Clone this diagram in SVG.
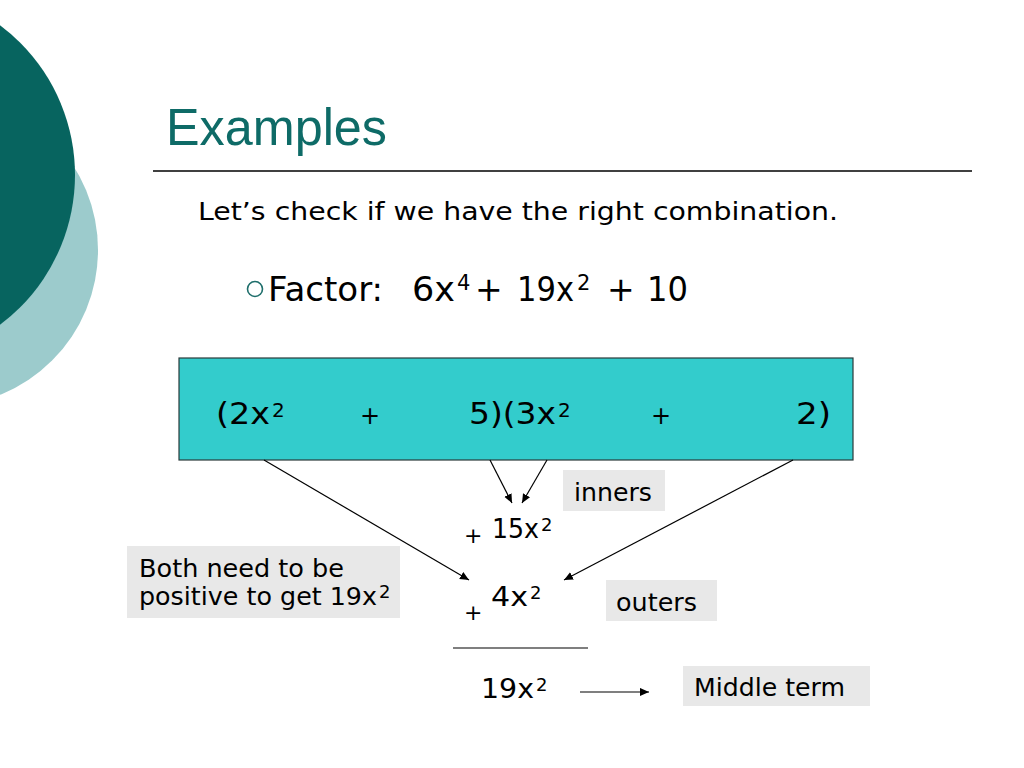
<svg xmlns="http://www.w3.org/2000/svg" width="1024" height="768" viewBox="0 0 1024 768">
<defs>
<style>
.t{font-family:"DejaVu Sans","Verdana",sans-serif;fill:#000}
.lbl{fill:#E8E8E8}
.con{stroke:#000;stroke-width:1.2;fill:none}
</style>
<marker id="ah" viewBox="0 0 10 10" refX="10" refY="5" markerWidth="9" markerHeight="9" markerUnits="userSpaceOnUse" orient="auto">
<path d="M0,0.5 L10,5 L0,9.5 Z" fill="#000"/>
</marker>
</defs>
<rect width="1024" height="768" fill="#fff"/>
<g id="decor">
<circle cx="-58" cy="250" r="156" fill="#9CCBCC"/>
<circle cx="-112" cy="175" r="187" fill="#07645F"/>
</g>
<g id="title">
<text x="166" y="145" font-family="Liberation Sans, Arial, sans-serif" font-size="52" fill="#0E6B67" textLength="221" lengthAdjust="spacingAndGlyphs">Examples</text>
<line x1="153" y1="171" x2="972" y2="171" stroke="#000" stroke-width="1.3"/>
</g>
<g id="intro">
<text class="t" x="198" y="220" font-size="24" textLength="640" lengthAdjust="spacingAndGlyphs">Let’s check if we have the right combination.</text>
</g>
<g id="factor">
<circle cx="255" cy="289" r="7.5" fill="none" stroke="#1E6E6B" stroke-width="1.6"/>
<text class="t" x="268" y="301" font-size="33" textLength="115" lengthAdjust="spacingAndGlyphs">Factor:</text>
<text class="t" x="412" y="301" font-size="33" textLength="43" lengthAdjust="spacingAndGlyphs">6x</text>
<text class="t" x="457" y="290" font-size="21">4</text>
<text class="t" x="475" y="301" font-size="33">+</text>
<text class="t" x="517" y="301" font-size="33" textLength="57" lengthAdjust="spacingAndGlyphs">19x</text>
<text class="t" x="577" y="290" font-size="21">2</text>
<text class="t" x="607" y="301" font-size="33">+</text>
<text class="t" x="647" y="301" font-size="33" textLength="41" lengthAdjust="spacingAndGlyphs">10</text>
</g>
<g id="product">
<rect x="179" y="358" width="674" height="102" fill="#33CCCC" stroke="#2A3A3A" stroke-width="1.2"/>
<text class="t" x="216" y="424" font-size="30" textLength="54" lengthAdjust="spacingAndGlyphs">(2x</text>
<text class="t" x="272" y="417" font-size="20">2</text>
<text class="t" x="360" y="424" font-size="24">+</text>
<text class="t" x="469" y="424" font-size="30" textLength="87" lengthAdjust="spacingAndGlyphs">5)(3x</text>
<text class="t" x="558" y="417" font-size="20">2</text>
<text class="t" x="651" y="424" font-size="24">+</text>
<text class="t" x="796" y="424" font-size="30" textLength="35" lengthAdjust="spacingAndGlyphs">2)</text>
</g>
<g id="connectors">
<line class="con" x1="264" y1="460" x2="469" y2="580" marker-end="url(#ah)"/>
<line class="con" x1="793" y1="460" x2="564" y2="580" marker-end="url(#ah)"/>
<line class="con" x1="490" y1="460" x2="512" y2="503" marker-end="url(#ah)"/>
<line class="con" x1="547" y1="460" x2="522" y2="503" marker-end="url(#ah)"/>
<line class="con" x1="580" y1="692" x2="649" y2="692" marker-end="url(#ah)"/>
<line x1="453" y1="648" x2="588" y2="648" stroke="#000" stroke-width="1.2"/>
</g>
<g id="inners">
<rect class="lbl" x="563" y="470" width="102" height="41"/>
<text class="t" x="574" y="501" font-size="25" textLength="78" lengthAdjust="spacingAndGlyphs">inners</text>
</g>
<g id="term15">
<text class="t" x="464" y="543" font-size="22">+</text>
<text class="t" x="492" y="538" font-size="27" textLength="47" lengthAdjust="spacingAndGlyphs">15x</text>
<text class="t" x="541" y="531" font-size="18">2</text>
</g>
<g id="note">
<rect class="lbl" x="127" y="546" width="273" height="72"/>
<text class="t" x="139" y="577" font-size="25" textLength="205" lengthAdjust="spacingAndGlyphs">Both need to be</text>
<text class="t" x="139" y="605" font-size="25" textLength="238" lengthAdjust="spacingAndGlyphs">positive to get 19x</text>
<text class="t" x="379" y="598" font-size="18">2</text>
</g>
<g id="term4">
<text class="t" x="464" y="620" font-size="22">+</text>
<text class="t" x="491" y="606" font-size="27" textLength="37" lengthAdjust="spacingAndGlyphs">4x</text>
<text class="t" x="530" y="599" font-size="18">2</text>
</g>
<g id="outers">
<rect class="lbl" x="606" y="580" width="111" height="41"/>
<text class="t" x="616" y="611" font-size="25" textLength="81" lengthAdjust="spacingAndGlyphs">outers</text>
</g>
<g id="sum">
<text class="t" x="481" y="698" font-size="27" textLength="53" lengthAdjust="spacingAndGlyphs">19x</text>
<text class="t" x="536" y="691" font-size="18">2</text>
</g>
<g id="middle">
<rect class="lbl" x="683" y="666" width="187" height="40"/>
<text class="t" x="694" y="696" font-size="25" textLength="151" lengthAdjust="spacingAndGlyphs">Middle term</text>
</g>
</svg>
